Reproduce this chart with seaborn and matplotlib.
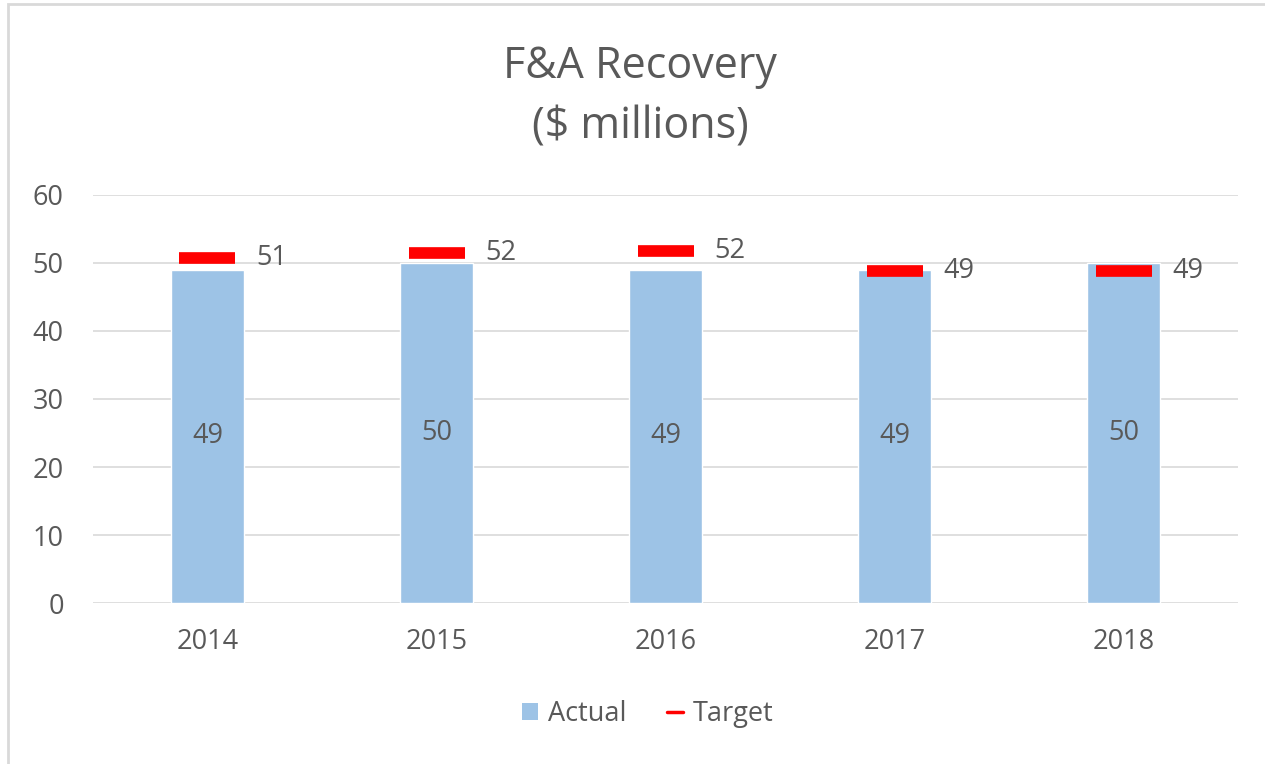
import matplotlib
matplotlib.use("Agg")
import matplotlib.pyplot as plt
import seaborn as sns
import pandas as pd
from matplotlib.patches import Patch, Rectangle
from matplotlib.lines import Line2D

# data
years = ["2014", "2015", "2016", "2017", "2018"]
actual = [49.0, 50.0, 49.0, 49.0, 50.0]
target = [50.8, 51.5, 51.8, 48.8, 48.8]
target_labels = ["51", "52", "52", "49", "49"]

df = pd.DataFrame({"year": years, "actual": actual, "target": target})

sns.set_theme(style="white")
plt.rcParams["font.family"] = ["Open Sans", "DejaVu Sans"]

txt = "#595959"
bar_col = "#9dc3e6"
grid_col = "#d9d9d9"
fs = 19.5

fig = plt.figure(figsize=(12.65, 7.64), dpi=100)
ax = fig.add_axes([0.0735, 0.2107, 0.9052, 0.5341])

sns.barplot(data=df, x="year", y="actual", color=bar_col, width=0.315,
            saturation=1, ax=ax, zorder=2)

# target markers as short thick dashes
x_pos = list(range(len(years)))
ax.plot(x_pos, df["target"], linestyle="none", marker="_", ms=40, mew=8.4,
        color="#ff0000", zorder=3)

# labels
ax.bar_label(ax.containers[0], labels=[f"{v:.0f}" for v in actual],
             label_type="center", fontsize=fs, color=txt)
for xi, yv, lab in zip(x_pos, target, target_labels):
    ax.annotate(lab, (xi, yv), xytext=(35, 0), textcoords="offset points",
                ha="left", va="center", fontsize=fs, color=txt)

ax.set_ylim(0, 60)
ax.set_yticks(range(0, 61, 10))
ax.set_xlim(-0.5, 4.5)
ax.yaxis.grid(True, color=grid_col, linewidth=1.2, zorder=0)
ax.set_axisbelow(True)
for s in ax.spines.values():
    s.set_visible(False)
ax.tick_params(axis="both", length=0, labelsize=fs, labelcolor=txt)
ax.tick_params(axis="y", pad=21)
ax.tick_params(axis="x", pad=18)
ax.set_xlabel("")
ax.set_ylabel("")

fig.text(0.506, 0.873, "F&A Recovery\n($ millions)", ha="center", va="center",
         fontsize=31, color=txt, linespacing=1.5)

handles = [Patch(facecolor=bar_col, edgecolor="none", label="Actual"),
           Line2D([0], [0], color="#ff0000", lw=2.5, label="Target")]
fig.legend(handles=handles, loc="center", bbox_to_anchor=(0.512, 0.065), ncol=2,
           frameon=False, fontsize=fs, labelcolor=txt, handlelength=0.6,
           handleheight=0.6, handletextpad=0.35, columnspacing=1.5)

# chart frame (partly cropped in the reference)
fig.patches.append(Rectangle((8 / 1265, -0.05), 1.2, 1.05 - 4 / 764,
                             transform=fig.transFigure, fill=False,
                             edgecolor=grid_col, linewidth=2))

fig.savefig("out.png", dpi=100)
